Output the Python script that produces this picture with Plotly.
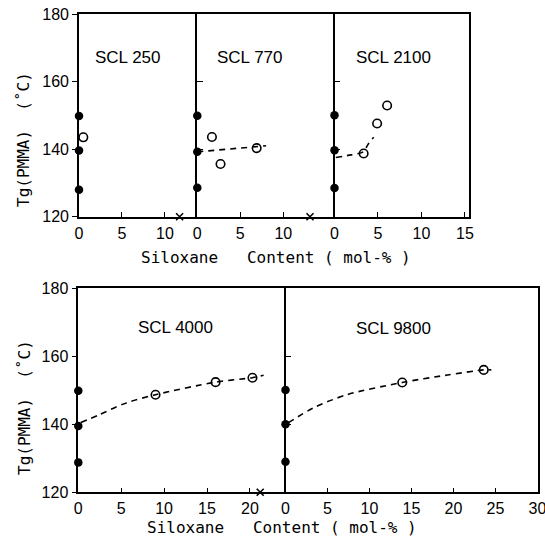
import plotly.graph_objects as go

# ---------------- data ----------------
panel_names = ["SCL 250", "SCL 770", "SCL 2100", "SCL 4000", "SCL 9800"]

# filled points at zero siloxane content (same for every panel)
ref_x = [0, 0, 0]
ref_y_top = [[149.8, 139.6, 128.0], [149.9, 139.2, 128.6], [150.0, 139.7, 128.5]]
ref_y_bot = [[149.9, 139.5, 128.8], [150.1, 140.0, 129.0]]

# open circles
scl250_x = [0.5]
scl250_y = [143.5]
scl770_x = [1.7, 2.7, 6.9]
scl770_y = [143.6, 135.6, 140.3]
scl2100_x = [3.35, 4.9, 6.05]
scl2100_y = [138.7, 147.6, 152.9]
scl4000_x = [9.0, 16.0, 20.3]
scl4000_y = [148.7, 152.4, 153.7]
scl9800_x = [13.9, 23.6]
scl9800_y = [152.3, 156.0]

# dashed trend curves
trend770_x = [0.0, 8.0]
trend770_y = [139.2, 141.0]
trend2100_x = [0.15, 1.9, 3.3, 3.9, 4.5]
trend2100_y = [137.5, 138.3, 139.2, 141.6, 143.5]
trend4000_x = [0.3, 2.5, 5.6, 9.0, 16.0, 20.3, 21.6]
trend4000_y = [140.5, 142.9, 146.3, 148.7, 152.4, 153.7, 154.4]
trend9800_x = [0.36, 3.3, 7.3, 13.9, 19.3, 23.6, 24.5]
trend9800_y = [140.5, 144.8, 148.7, 152.3, 154.5, 156.0, 156.0]

# axis break positions
break_top = [(1, 11.7), (2, 13.1)]
break_bot = [(4, 21.2)]

y_ticks = [120, 140, 160, 180]
y_range = [120, 180]
x_ranges = [[0, 13.76], [0, 15.95], [0, 15.5], [0, 24.15], [0, 30]]
x_tickvals = [[0, 5, 10], [0, 5, 10], [0, 5, 10, 15], [0, 5, 10, 15, 20], [0, 5, 10, 15, 20, 25, 30]]

x_title = "Siloxane   Content ( mol-% )"
y_title = "Tg(PMMA)  (˚C)"

# ---------------- layout geometry (pixels in the final screenshot) ----------------
W, H = 545, 541
top_y = (14, 216.7)
bot_y = (288.3, 492.3)
x_px = [(79, 197.3), (197.3, 334.5), (334.5, 469.3), (78.3, 285.5), (285.5, 537.5)]

def xp(a):
    return min(1.0, a / W)

def yp(a):
    return max(0.0, 1 - a / H)

def xd(a, b):
    return [xp(a), xp(b)]

def yd(a, b):
    return [yp(b), yp(a)]

FONT = "Liberation Sans"
MONO = "DejaVu Sans Mono"
fig = go.Figure()

open_x = [scl250_x, scl770_x, scl2100_x, scl4000_x, scl9800_x]
open_y = [scl250_y, scl770_y, scl2100_y, scl4000_y, scl9800_y]
trends = [None, (trend770_x, trend770_y), (trend2100_x, trend2100_y),
          (trend4000_x, trend4000_y), (trend9800_x, trend9800_y)]
ref_ys = ref_y_top + ref_y_bot

for i in range(5):
    n = "" if i == 0 else str(i + 1)
    xa, ya = "x" + n, "y" + n
    if trends[i] is not None:
        tx, ty = trends[i]
        fig.add_trace(go.Scatter(x=tx, y=ty, xaxis=xa, yaxis=ya, mode="lines",
                                 line=dict(color="black", width=1.6, dash="6px,5px",
                                           shape="spline", smoothing=0.8),
                                 cliponaxis=False, showlegend=False, hoverinfo="skip"))
    fig.add_trace(go.Scatter(x=ref_x, y=ref_ys[i], xaxis=xa, yaxis=ya, mode="markers",
                             marker=dict(symbol="circle", size=8.5, color="black"),
                             cliponaxis=False, showlegend=False))
    fig.add_trace(go.Scatter(x=open_x[i], y=open_y[i], xaxis=xa, yaxis=ya, mode="markers",
                             marker=dict(symbol="circle-open", size=8.5, color="black",
                                         line=dict(width=1.6, color="black")),
                             cliponaxis=False, showlegend=False))

for p, bx in break_top + break_bot:
    n = "" if p == 1 else str(p)
    fig.add_trace(go.Scatter(x=[bx], y=[y_range[0]], xaxis="x" + n, yaxis="y" + n,
                             mode="markers",
                             marker=dict(symbol="x-thin", size=7, color="black",
                                         line=dict(width=1.6, color="black")),
                             cliponaxis=False, showlegend=False))

layout = dict(width=W, height=H, margin=dict(l=0, r=0, t=0, b=0, autoexpand=False),
              paper_bgcolor="white", plot_bgcolor="white",
              font=dict(family=FONT, size=16, color="black"), showlegend=False)

for i in range(5):
    n = "" if i == 0 else str(i + 1)
    yrow = top_y if i < 3 else bot_y
    last = (i == 2 or i == 4)
    first = (i == 0 or i == 3)
    layout["xaxis" + n] = dict(domain=xd(*x_px[i]), range=x_ranges[i], anchor="y" + n,
                              tickvals=x_tickvals[i], ticks="inside", ticklen=5,
                              tickwidth=1.3, tickcolor="black", automargin=False,
                              showline=True, linecolor="black", linewidth=1.6, mirror=True,
                              showgrid=False, zeroline=False, ticklabeloverflow="allow",
                              tickfont=dict(size=16, family=FONT), ticklabelstandoff=1)
    ya = dict(domain=yd(*yrow), range=y_range, anchor="x" + n, tickvals=y_ticks,
              showline=True, linecolor="black", linewidth=1.6, mirror=last,
              showgrid=False, zeroline=False, tickcolor="black", tickwidth=1.3,
              automargin=False)
    if first:
        ya.update(ticks="outside", ticklen=5, showticklabels=True,
                  tickfont=dict(size=16, family=FONT))
    else:
        ya.update(ticks="inside", ticklen=6, showticklabels=False)
    layout["yaxis" + n] = ya

label_pos = [(128, 57), (250, 57), (393, 57), (175, 327), (393, 328)]
ann = []
for name, (px, py) in zip(panel_names, label_pos):
    ann.append(dict(text=name, x=xp(px), y=yp(py), xref="paper", yref="paper",
                    xanchor="center", yanchor="middle",
                    showarrow=False, font=dict(size=17, family=FONT)))
for (px, py) in [(276, 257), (282, 527)]:
    ann.append(dict(text=x_title, x=xp(px), y=yp(py), xref="paper", yref="paper",
                    xanchor="center", yanchor="middle",
                    showarrow=False, font=dict(size=16, family=MONO)))
for (px, py) in [(24, 140), (24, 408)]:
    ann.append(dict(text=y_title, x=xp(px), y=yp(py), xref="paper", yref="paper",
                    xanchor="center", yanchor="middle",
                    showarrow=False, textangle=-90, font=dict(size=16, family=MONO)))
layout["annotations"] = ann

fig.update_layout(**layout)
fig.write_html("out.html", config={"displayModeBar": False},
               post_script="document.body.style.margin='0';document.body.style.overflow='hidden';")
